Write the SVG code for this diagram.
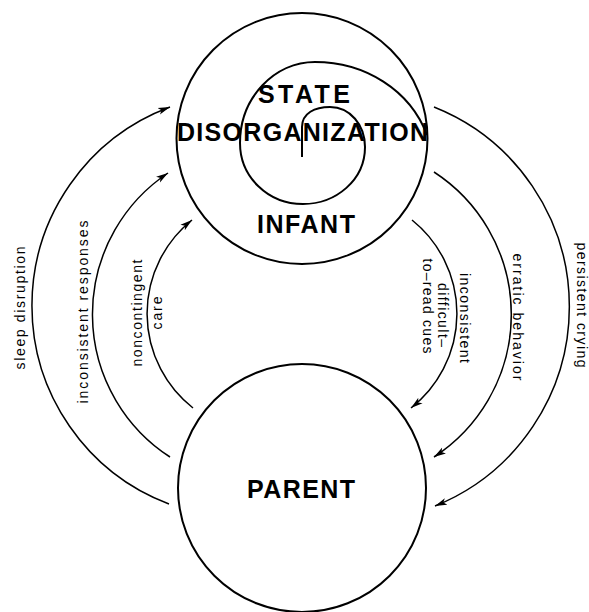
<svg xmlns="http://www.w3.org/2000/svg" width="589" height="612" viewBox="0 0 589 612">
<style>
.node{fill:none;stroke:#000;stroke-width:2}
.big{font-family:"Liberation Sans",Arial,sans-serif;font-weight:bold;font-size:25px;fill:#000;text-anchor:middle}
.lab{font-family:"Liberation Sans",Arial,sans-serif;font-size:14px;fill:#000;text-anchor:middle}
.arc{fill:none;stroke:#000;stroke-width:1.5}
</style>
<defs>
<marker id="ah" markerUnits="userSpaceOnUse" markerWidth="14" markerHeight="10" refX="12" refY="4" orient="auto">
<path d="M0,0.5 L12,4 L0,7.5 L3,4 Z" fill="#000"/>
</marker>
</defs>
<rect width="589" height="612" fill="#fff"/>
<g id="infant">
<circle class="node" cx="302" cy="138.5" r="125.5"/>
<path class="node" stroke-width="1.6" d="M302,157 L302,127 C302,113 315,107 330,107 C350,107 365,125 365,147 C365,180 336,204 303,204 C268,204 240,177 240,143 C240,97 275,62 315,62 C365,62 410,90 427,135"/>
<text class="big" x="304" y="103" textLength="92" lengthAdjust="spacing">STATE</text>
<text class="big" x="302.5" y="141" textLength="251" lengthAdjust="spacing">DISORGANIZATION</text>
<text class="big" x="306" y="233" textLength="98" lengthAdjust="spacing">INFANT</text>
</g>
<g id="parent">
<circle class="node" cx="302" cy="488" r="124"/>
<text class="big" x="301" y="498" textLength="108" lengthAdjust="spacing">PARENT</text>
</g>
<g id="connectors">
<path class="arc" d="M169,504 A212 212 0 0 1 170,107" marker-end="url(#ah)"/>
<path class="arc" d="M170,457 A170 170 0 0 1 168,173" marker-end="url(#ah)"/>
<path class="arc" d="M193,408 A120 120 0 0 1 192,220" marker-end="url(#ah)"/>
<path class="arc" d="M434,107 A215 215 0 0 1 435,506" marker-end="url(#ah)"/>
<path class="arc" d="M434,172 A170 170 0 0 1 434,457" marker-end="url(#ah)"/>
<path class="arc" d="M412,220 A120 120 0 0 1 411,408" marker-end="url(#ah)"/>
</g>
<g id="labels">
<text class="lab" transform="translate(25,308) rotate(-90)" textLength="123" lengthAdjust="spacing">sleep disruption</text>
<text class="lab" transform="translate(88,312) rotate(-90)" textLength="183" lengthAdjust="spacing">inconsistent responses</text>
<text class="lab" transform="translate(142,313) rotate(-90)" textLength="107" lengthAdjust="spacing">noncontingent</text>
<text class="lab" transform="translate(162,313) rotate(-90)" textLength="33" lengthAdjust="spacing">care</text>
<text class="lab" transform="translate(577,305) rotate(90)" textLength="125" lengthAdjust="spacing">persistent crying</text>
<text class="lab" transform="translate(513,317) rotate(90)" textLength="127" lengthAdjust="spacing">erratic behavior</text>
<text class="lab" transform="translate(460,318) rotate(90)" textLength="90" lengthAdjust="spacing">inconsistent</text>
<text class="lab" transform="translate(438,315) rotate(90)" textLength="64" lengthAdjust="spacing">difficult–</text>
<text class="lab" transform="translate(423,306) rotate(90)" textLength="95" lengthAdjust="spacing">to–read cues</text>
</g>
</svg>
